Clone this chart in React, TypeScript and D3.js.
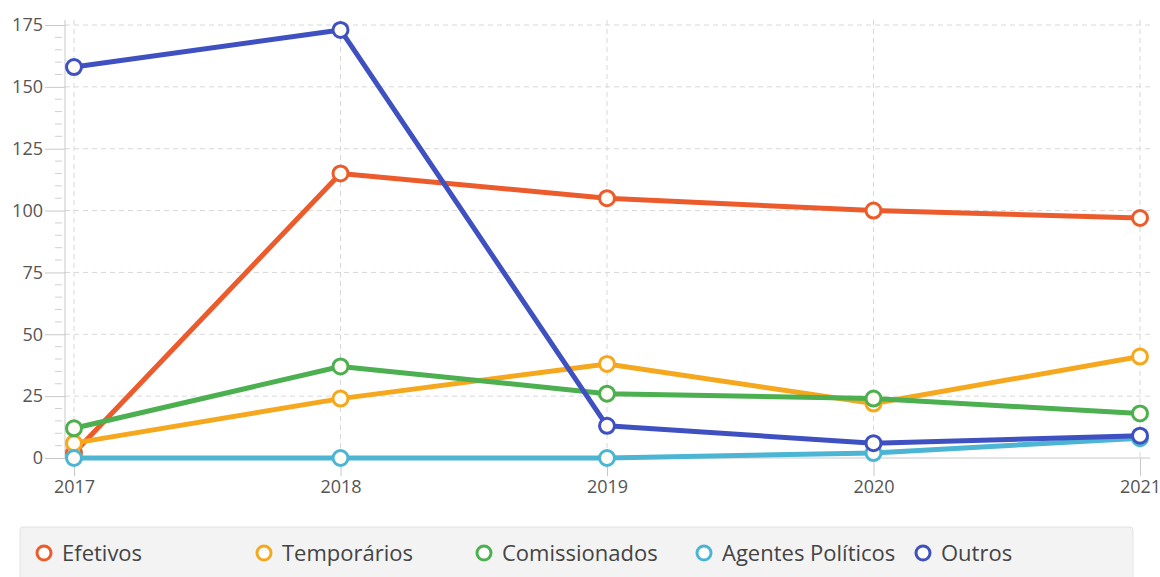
import * as d3 from "d3";
import { useEffect, useRef } from "react";

const years = ["2017", "2018", "2019", "2020", "2021"];
const seriesNames = ["Efetivos", "Temporários", "Comissionados", "Agentes Políticos", "Outros"];
const efetivos = [2, 115, 105, 100, 97];
const temporarios = [6, 24, 38, 22, 41];
const comissionados = [12, 37, 26, 24, 18];
const agentes = [0, 0, 0, 2, 8];
const outros = [158, 173, 13, 6, 9];
const colors = ["#ec5b2c", "#f5a81e", "#4caf50", "#4bb5d3", "#3f51c0"];
const yTicks = [0, 25, 50, 75, 100, 125, 150, 175];

const W = 1160;
const H = 577;

function App() {
  const svgRef = useRef<SVGSVGElement>(null);

  useEffect(() => {
    const svg = d3.select(svgRef.current);
    svg.selectAll("*").remove();

    const x = d3.scalePoint().domain(years).range([74, 1140]);
    const y = d3.scaleLinear().domain([0, 175]).range([458, 25]);
    const font = "'Open Sans', 'Noto Sans', sans-serif";

    // grid
    const grid = svg.append("g");
    grid
      .selectAll(".hg")
      .data(yTicks.slice(1))
      .enter()
      .append("line")
      .attr("x1", 65)
      .attr("x2", 1150)
      .attr("y1", (d) => y(d))
      .attr("y2", (d) => y(d))
      .attr("stroke", "#d8d8d8")
      .attr("stroke-dasharray", "5,4");
    grid
      .selectAll(".vg")
      .data(years)
      .enter()
      .append("line")
      .attr("x1", (d) => x(d)!)
      .attr("x2", (d) => x(d)!)
      .attr("y1", 20)
      .attr("y2", 458)
      .attr("stroke", "#d8d8d8")
      .attr("stroke-dasharray", "5,4");

    // y axis
    const yAxis = d3
      .axisLeft(y)
      .tickValues(yTicks)
      .tickSize(20)
      .tickPadding(2);
    const gy = svg.append("g").attr("transform", "translate(65,0)").call(yAxis);
    gy.select(".domain").attr("stroke", "#c8c8c8").attr("d", "M0,20V458");
    gy.selectAll(".tick line").attr("stroke", "#c8c8c8");
    gy.selectAll(".tick text")
      .attr("fill", "#555")
      .style("font-family", font)
      .style("font-size", "18px");
    const minor = d3.range(0, 176, 5).filter((v) => v % 25 !== 0);
    svg
      .append("g")
      .selectAll("line")
      .data(minor)
      .enter()
      .append("line")
      .attr("x1", 55)
      .attr("x2", 62)
      .attr("y1", (d) => y(d))
      .attr("y2", (d) => y(d))
      .attr("stroke", "#d0d0d0");

    // x axis
    const xAxis = d3.axisBottom(x).tickSize(18).tickPadding(4);
    const gx = svg.append("g").attr("transform", "translate(0,458)").call(xAxis);
    gx.select(".domain").attr("stroke", "#c8c8c8").attr("d", "M65,0H1150");
    gx.selectAll(".tick line").attr("stroke", "#c8c8c8");
    gx.selectAll(".tick text")
      .attr("fill", "#555")
      .style("font-family", font)
      .style("font-size", "18px");

    // series
    const allSeries = [efetivos, temporarios, comissionados, agentes, outros];
    const line = d3
      .line<number>()
      .x((_, i) => x(years[i])!)
      .y((d) => y(d));
    allSeries.forEach((vals, s) => {
      const g = svg.append("g");
      g.append("path")
        .attr("d", line(vals))
        .attr("fill", "none")
        .attr("stroke", colors[s])
        .attr("stroke-width", 5)
        .attr("stroke-linejoin", "round");
      g.selectAll("circle")
        .data(vals)
        .enter()
        .append("circle")
        .attr("cx", (_, i) => x(years[i])!)
        .attr("cy", (d) => y(d))
        .attr("r", 7.5)
        .attr("fill", "#fffdf5")
        .attr("stroke", colors[s])
        .attr("stroke-width", 3);
    });

    // legend
    const lg = svg.append("g");
    lg.append("rect")
      .attr("x", 20)
      .attr("y", 527)
      .attr("width", 1113)
      .attr("height", 60)
      .attr("rx", 3)
      .attr("fill", "#f3f3f3")
      .attr("stroke", "#e2e2e2");
    const lx = [44, 264, 484, 704, 923];
    seriesNames.forEach((name, i) => {
      lg.append("circle")
        .attr("cx", lx[i])
        .attr("cy", 553)
        .attr("r", 7)
        .attr("fill", "#fff")
        .attr("stroke", colors[i])
        .attr("stroke-width", 3);
      lg.append("text")
        .attr("x", lx[i] + 18)
        .attr("y", 553)
        .attr("dy", "0.35em")
        .attr("fill", "#444")
        .style("font-family", font)
        .style("font-size", "22px")
        .text(name);
    });
  }, []);

  return (
    <svg
      ref={svgRef}
      width={W}
      height={H}
      style={{ position: "absolute", left: 0, top: 0, background: "#fff" }}
    ></svg>
  );
}

export default App;
